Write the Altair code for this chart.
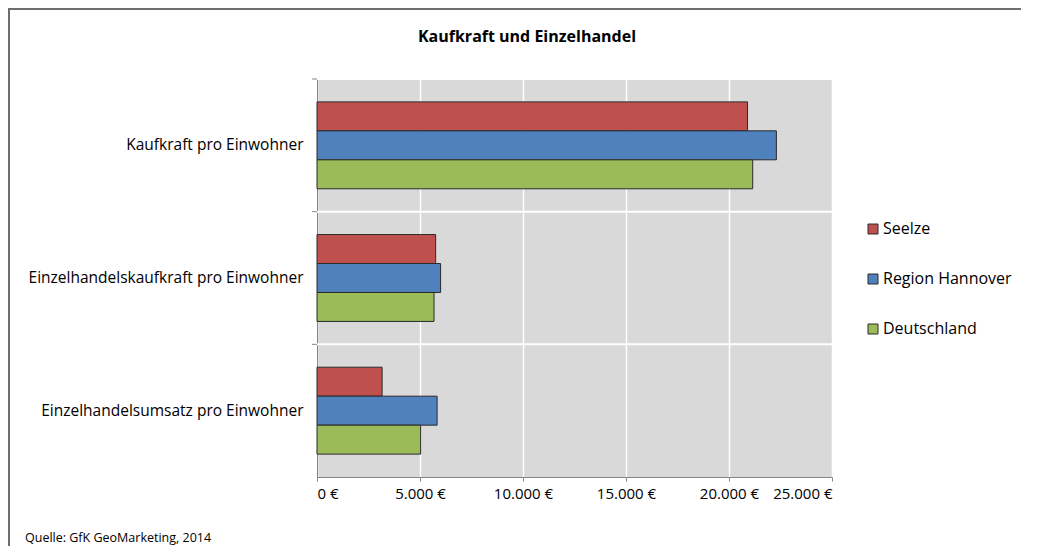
import altair as alt
import pandas as pd

categories = [
    "Kaufkraft pro Einwohner",
    "Einzelhandelskaufkraft pro Einwohner",
    "Einzelhandelsumsatz pro Einwohner",
]
series = ["Seelze", "Region Hannover", "Deutschland"]
colors = ["#C0504D", "#4F81BD", "#9BBB59"]
seelze = [20900, 5760, 3160]
region = [22300, 6000, 5830]
deutschland = [21150, 5680, 5030]
x_ticks = [0, 5000, 10000, 15000, 20000, 25000]

rows = []
for i, c in enumerate(categories):
    for s, vals in zip(series, [seelze, region, deutschland]):
        rows.append({"cat": c, "series": s, "value": vals[i]})
df = pd.DataFrame(rows)
cat_df = pd.DataFrame({"cat": categories})
one_df = pd.DataFrame({"k": [0]})

FONT = "Open Sans"
W, H = 515, 398

y_axis = alt.Axis(title=None, ticks=False, grid=False, domainColor="#868686",
                  labelFontSize=15.5, labelFont=FONT, labelColor="#000000",
                  labelPadding=14, labelLimit=400)
y_scale = alt.Scale(type="band", domain=categories, paddingInner=0, paddingOuter=0)

bars = alt.Chart(df).mark_bar(stroke="#2a2a2a", strokeWidth=1).encode(
    y=alt.Y("cat:N", scale=y_scale, axis=y_axis, sort=categories),
    yOffset=alt.YOffset("series:N", sort=series,
                        scale=alt.Scale(domain=series, paddingInner=0, paddingOuter=0.79)),
    x=alt.X("value:Q",
            scale=alt.Scale(domain=[0, 25000], nice=False),
            axis=alt.Axis(title=None, values=x_ticks, grid=True, gridColor="#FFFFFF",
                          gridWidth=1.5, domainColor="#868686", tickColor="#868686",
                          tickSize=4, labelPadding=5, labelFontSize=15, labelFont=FONT,
                          labelColor="#000000",
                          labelExpr="replace(format(datum.value, ',d'), ',', '.') + ' €'")),
    color=alt.Color("series:N", sort=series,
                    scale=alt.Scale(domain=series, range=colors),
                    legend=alt.Legend(title=None, orient="none", legendX=548, legendY=142,
                                      symbolType="square", symbolSize=100,
                                      symbolStrokeColor="#2a2a2a", symbolStrokeWidth=1,
                                      labelFontSize=16, labelFont=FONT, labelColor="#000000",
                                      labelOffset=2, rowPadding=34, padding=0, offset=0)),
)

separators = alt.Chart(cat_df).mark_rule(color="#FFFFFF", strokeWidth=2).encode(
    y=alt.Y("cat:N", scale=y_scale, axis=y_axis, sort=categories, bandPosition=0),
)

yticks = alt.Chart(cat_df).mark_rule(color="#868686", strokeWidth=1).encode(
    y=alt.Y("cat:N", scale=y_scale, axis=y_axis, sort=categories, bandPosition=0),
    x=alt.value(-5), x2=alt.value(0),
)

title = alt.Chart(one_df).mark_text(fontSize=16, fontWeight="bold", font=FONT,
                                    color="#000000").encode(
    x=alt.value(210), y=alt.value(-42), text=alt.value("Kaufkraft und Einzelhandel"))

source = alt.Chart(one_df).mark_text(fontSize=12.5, font=FONT, align="left",
                                     fontWeight="normal", color="#000000").encode(
    x=alt.value(-292), y=alt.value(459), text=alt.value("Quelle:  GfK GeoMarketing,  2014"))

frame_left = alt.Chart(one_df).mark_rect(color="#6e6e6e").encode(
    x=alt.value(-309), x2=alt.value(-307), y=alt.value(-71), y2=alt.value(470))
frame_top = alt.Chart(one_df).mark_rect(color="#6e6e6e").encode(
    x=alt.value(-309), x2=alt.value(704), y=alt.value(-71), y2=alt.value(-69))

chart = alt.layer(separators, bars, yticks, title, source, frame_left, frame_top).properties(
    width=W, height=H,
    autosize=alt.AutoSizeParams(type="none"),
    padding={"left": 309, "top": 71, "right": 190, "bottom": 69},
    background="#FFFFFF",
).configure_view(fill="#D9D9D9", strokeWidth=0)

chart.save("out.html", embed_options={"renderer": "svg", "actions": False})
